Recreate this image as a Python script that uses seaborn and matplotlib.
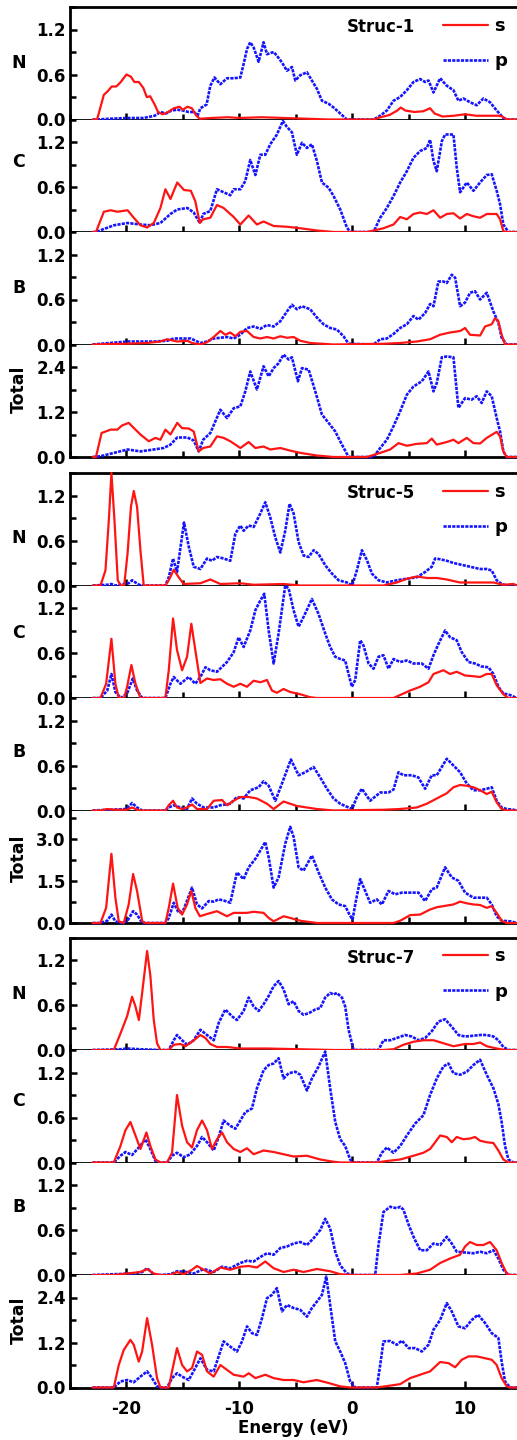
import matplotlib
matplotlib.use("Agg")
import matplotlib.pyplot as plt
import numpy as np
import pandas as pd
import seaborn as sns
from matplotlib.ticker import FixedLocator, MultipleLocator, FormatStrFormatter
from matplotlib.lines import Line2D

sns.set_theme(style="white")
plt.rcParams['font.family'] = ['DejaVu Sans']
plt.rcParams['axes.unicode_minus'] = False
for key in ["text.color", "axes.labelcolor", "xtick.color", "ytick.color", "axes.edgecolor"]:
    plt.rcParams[key] = "black"

# ---------------- data: (energy eV, DOS) ----------------
species = ["N", "C", "B", "Total"]
structures = ["Struc-1", "Struc-5", "Struc-7"]
orbitals = ["s", "p"]
x_ticks = [-20, -10, 0, 10]

# Struc-1
s1_N_s = [(-23,0),(-22.6,0),(-22.0,0.33),(-21.7,0.37),(-21.3,0.44),(-20.9,0.44),(-20.5,0.5),(-20.0,0.6),(-19.6,0.57),(-19.3,0.5),(-18.9,0.5),(-18.5,0.42),(-18.2,0.3),(-17.9,0.31),(-17.5,0.2),(-17.2,0.1),(-16.8,0.07),(-16.3,0.1),(-15.8,0.15),(-15.3,0.17),(-15.0,0.13),(-14.6,0.17),(-14.2,0.15),(-13.8,0.05),(-13.5,0.01),(-12.5,0.02),(-11.0,0.03),(-10.0,0.02),(-8.0,0.03),(-6.0,0.02),(-4.0,0.01),(-2.0,0.0),(0.0,0.0),(1.9,0.0),(2.5,0.03),(3.3,0.06),(4.0,0.12),(4.3,0.16),(4.7,0.12),(5.5,0.1),(6.3,0.11),(6.9,0.15),(7.3,0.08),(8.0,0.04),(9.0,0.05),(10.0,0.07),(11.0,0.05),(12.0,0.05),(13.0,0.05),(13.3,0.04),(13.7,0.0),(14.6,0.0)]
s1_N_p = [(-23,0),(-22.6,0),(-21.5,0.01),(-20,0.02),(-18.5,0.02),(-17.5,0.05),(-17.0,0.1),(-16.5,0.08),(-16.0,0.12),(-15.5,0.13),(-15.0,0.12),(-14.5,0.1),(-14.0,0.1),(-13.7,0.05),(-13.45,0.15),(-12.9,0.2),(-12.57,0.45),(-12.2,0.56),(-11.68,0.47),(-11.09,0.55),(-10.5,0.55),(-9.91,0.56),(-9.62,0.74),(-9.32,0.94),(-9.03,1.03),(-8.73,0.96),(-8.29,0.77),(-7.85,1.03),(-7.55,0.87),(-6.96,0.9),(-6.67,0.85),(-6.22,0.76),(-5.78,0.65),(-5.34,0.7),(-5.04,0.52),(-4.6,0.59),(-4.01,0.63),(-3.57,0.52),(-3.13,0.41),(-2.68,0.25),(-2.09,0.21),(-1.65,0.16),(-1.06,0.08),(-0.47,0),(1.89,0),(2.48,0.05),(3.07,0.12),(3.66,0.25),(4.25,0.3),(4.84,0.39),(5.43,0.5),(6.02,0.54),(6.46,0.5),(6.76,0.52),(7.2,0.36),(7.79,0.55),(8.38,0.45),(8.97,0.39),(9.41,0.25),(9.85,0.28),(10.44,0.23),(11.03,0.19),(11.62,0.28),(12.21,0.23),(12.8,0.12),(13.39,0.02),(13.69,0),(14.6,0)]
s1_C_s = [(-23,0),(-22.7,0),(-22.0,0.27),(-21.4,0.29),(-20.8,0.27),(-19.9,0.29),(-19.35,0.19),(-18.76,0.09),(-18.17,0.06),(-17.58,0.12),(-16.99,0.32),(-16.55,0.57),(-16.1,0.44),(-15.5,0.66),(-14.9,0.56),(-14.3,0.55),(-13.9,0.41),(-13.5,0.12),(-13.2,0.17),(-12.57,0.19),(-11.98,0.36),(-11.39,0.32),(-10.5,0.2),(-9.91,0.1),(-9.17,0.22),(-8.44,0.1),(-7.85,0.14),(-6.96,0.08),(-5.78,0.07),(-4.6,0.05),(-3.13,0.02),(-1.65,0),(1.3,0),(2.77,0.05),(3.66,0.1),(4.25,0.2),(4.84,0.17),(5.43,0.24),(6.02,0.26),(6.61,0.24),(7.2,0.29),(7.79,0.19),(8.38,0.24),(8.97,0.25),(9.56,0.18),(10.15,0.24),(10.74,0.21),(11.33,0.19),(11.92,0.24),(12.8,0.24),(13.1,0.17),(13.39,0.01),(13.69,0),(14.6,0)]
s1_C_p = [(-23,0),(-22.7,0),(-22.0,0.04),(-21.1,0.09),(-19.9,0.12),(-18.76,0.1),(-17.9,0.09),(-16.99,0.12),(-16.1,0.24),(-15.5,0.3),(-14.6,0.32),(-14.04,0.26),(-13.5,0.12),(-13.2,0.24),(-12.57,0.28),(-11.98,0.57),(-11.39,0.53),(-10.8,0.49),(-10.5,0.57),(-9.91,0.57),(-9.47,0.68),(-9.03,0.96),(-8.58,0.76),(-8.14,1.03),(-7.7,1.03),(-7.26,1.17),(-6.67,1.3),(-6.14,1.48),(-5.78,1.4),(-5.34,1.33),(-4.9,1.03),(-4.45,1.19),(-4.01,1.12),(-3.57,1.17),(-3.13,0.95),(-2.68,0.66),(-2.09,0.59),(-1.65,0.48),(-1.06,0.3),(-0.47,0.06),(-0.18,0),(1.89,0),(2.48,0.19),(3.07,0.32),(3.66,0.48),(4.25,0.66),(4.84,0.81),(5.43,0.99),(6.02,1.08),(6.61,1.12),(6.9,1.23),(7.2,0.95),(7.49,0.81),(7.94,1.21),(8.23,1.3),(8.97,1.3),(9.26,0.86),(9.56,0.53),(10.15,0.66),(10.74,0.55),(11.33,0.66),(11.92,0.76),(12.36,0.77),(12.8,0.55),(13.1,0.37),(13.39,0.1),(13.84,0),(14.6,0)]
s1_B_s = [(-23,0),(-20.2,0.01),(-18.2,0.02),(-17.0,0.04),(-16.4,0.07),(-15.5,0.04),(-14.6,0.05),(-14.2,0.02),(-13.45,0),(-12.86,0.03),(-12.27,0.1),(-11.68,0.18),(-11.24,0.13),(-10.8,0.16),(-10.35,0.11),(-9.91,0.17),(-9.32,0.18),(-8.73,0.1),(-8.14,0.08),(-7.55,0.1),(-6.96,0.08),(-6.37,0.11),(-5.78,0.09),(-5.19,0.1),(-4.6,0.05),(-3.72,0.02),(-1.65,0),(2.77,0.01),(4.25,0.02),(5.72,0.04),(6.9,0.07),(7.79,0.13),(8.67,0.16),(9.56,0.18),(10.0,0.22),(10.44,0.13),(11.33,0.12),(11.77,0.24),(12.36,0.27),(12.65,0.35),(12.95,0.31),(13.24,0.13),(13.54,0),(14.6,0)]
s1_B_p = [(-23,0),(-19.9,0.04),(-18.76,0.04),(-17.58,0.04),(-16.4,0.05),(-15.8,0.08),(-14.9,0.08),(-14.3,0.08),(-13.45,0.02),(-12.86,0.04),(-12.27,0.08),(-11.68,0.09),(-11.09,0.1),(-10.5,0.08),(-9.91,0.13),(-9.32,0.22),(-8.73,0.24),(-8.14,0.21),(-7.55,0.26),(-6.96,0.24),(-6.37,0.31),(-5.78,0.44),(-5.34,0.53),(-4.9,0.47),(-4.45,0.51),(-3.72,0.47),(-3.13,0.36),(-2.54,0.27),(-1.95,0.22),(-1.36,0.2),(-0.77,0.11),(-0.32,0.01),(1.89,0),(2.48,0.07),(3.07,0.08),(3.66,0.14),(4.25,0.22),(4.84,0.27),(5.43,0.38),(5.87,0.33),(6.46,0.42),(6.9,0.54),(7.2,0.51),(7.64,0.84),(8.08,0.84),(8.38,0.82),(8.82,0.93),(9.12,0.89),(9.56,0.51),(10.0,0.56),(10.44,0.69),(10.88,0.71),(11.33,0.6),(11.92,0.69),(12.51,0.44),(12.95,0.29),(13.24,0.09),(13.69,0),(14.6,0)]
s1_T_s = [(-23,0),(-22.7,0),(-22.2,0.64),(-21.4,0.73),(-20.8,0.73),(-20.4,0.84),(-19.8,0.91),(-19.2,0.73),(-18.76,0.6),(-18.02,0.42),(-17.43,0.51),(-16.99,0.46),(-16.55,0.73),(-16.1,0.6),(-15.5,0.91),(-15.07,0.77),(-14.48,0.76),(-14.04,0.68),(-13.6,0.15),(-13.2,0.24),(-12.57,0.28),(-11.98,0.55),(-11.39,0.51),(-10.8,0.42),(-10.35,0.33),(-9.91,0.24),(-9.17,0.4),(-8.58,0.24),(-7.85,0.28),(-7.26,0.2),(-6.37,0.24),(-5.49,0.17),(-4.6,0.11),(-3.13,0.04),(-1.65,0),(1.3,0),(2.48,0.11),(3.36,0.2),(4.1,0.37),(4.84,0.3),(5.72,0.35),(6.61,0.37),(7.05,0.49),(7.49,0.33),(8.38,0.4),(8.97,0.46),(9.41,0.37),(10.15,0.51),(10.74,0.37),(11.33,0.36),(11.92,0.51),(12.8,0.67),(13.1,0.55),(13.39,0.15),(13.69,0),(14.6,0)]
s1_T_p = [(-23,0),(-22.3,0.02),(-21.1,0.11),(-19.9,0.2),(-18.76,0.15),(-17.58,0.2),(-16.7,0.24),(-16.1,0.33),(-15.5,0.52),(-14.6,0.52),(-14.04,0.44),(-13.6,0.15),(-13.2,0.46),(-12.57,0.64),(-11.68,1.26),(-11.09,1.04),(-10.5,1.3),(-9.91,1.35),(-9.47,1.75),(-9.03,2.28),(-8.44,1.8),(-7.85,2.42),(-7.4,2.15),(-6.96,2.37),(-6.52,2.5),(-6.08,2.73),(-5.63,2.6),(-5.34,2.66),(-4.81,2.02),(-4.45,2.37),(-3.86,2.33),(-3.27,1.75),(-2.68,1.13),(-2.09,0.91),(-1.5,0.68),(-0.91,0.33),(-0.32,0),(1.89,0),(2.48,0.24),(3.07,0.46),(3.66,0.82),(4.25,1.22),(4.84,1.66),(5.43,1.88),(6.17,2.02),(6.76,2.28),(7.2,1.75),(7.49,1.97),(7.94,2.66),(8.38,2.68),(8.97,2.66),(9.41,1.31),(10.0,1.57),(10.59,1.53),(11.03,1.62),(11.47,1.44),(11.92,1.75),(12.36,1.62),(12.8,1.04),(13.1,0.68),(13.39,0.15),(13.69,0),(14.6,0)]

# Struc-5
s5_N_s = [(-23,0),(-22.3,0),(-21.86,0.2),(-21.56,0.87),(-21.33,1.5),(-21.06,0.87),(-20.77,0.07),(-20.5,0),(-20.2,0),(-19.9,0.43),(-19.6,1.05),(-19.35,1.26),(-19.06,1.05),(-18.76,0.47),(-18.47,0),(-16.55,0),(-16.25,0.07),(-15.81,0.21),(-15.37,0.11),(-14.93,0.02),(-13.45,0.03),(-12.57,0.08),(-11.68,0.02),(-9.91,0.03),(-8.73,0.01),(-6.08,0.02),(-4.6,0),(2.77,0),(3.95,0.04),(4.84,0.09),(5.72,0.12),(6.61,0.1),(7.49,0.1),(8.38,0.08),(9.56,0.04),(10.74,0.04),(11.62,0.04),(12.51,0.04),(13.39,0.01),(14.28,0.02),(14.6,0)]
s5_N_p = [(-23,0),(-21.7,0.01),(-21.33,0.02),(-20.98,0),(-19.8,0.03),(-19.5,0.07),(-19.2,0.04),(-18.76,0),(-16.55,0),(-16.25,0.11),(-15.87,0.36),(-15.52,0.18),(-14.9,0.84),(-14.48,0.52),(-14.04,0.25),(-13.45,0.22),(-12.86,0.36),(-12.42,0.33),(-11.98,0.38),(-11.39,0.36),(-10.8,0.33),(-10.35,0.69),(-9.91,0.8),(-9.62,0.73),(-9.17,0.8),(-8.73,0.78),(-8.14,0.96),(-7.7,1.11),(-7.26,0.91),(-6.81,0.64),(-6.37,0.44),(-5.93,0.73),(-5.55,1.09),(-5.19,0.96),(-4.75,0.58),(-4.31,0.4),(-3.86,0.38),(-3.42,0.47),(-2.98,0.42),(-2.39,0.27),(-1.8,0.16),(-1.21,0.07),(-0.47,0.04),(0.0,0.0),(0.41,0.2),(0.86,0.47),(1.3,0.34),(1.74,0.16),(2.33,0.07),(3.07,0.04),(3.95,0.07),(4.84,0.09),(5.72,0.11),(6.46,0.18),(7.05,0.25),(7.35,0.36),(7.79,0.35),(8.38,0.33),(8.97,0.3),(9.56,0.28),(10.15,0.26),(10.74,0.24),(11.33,0.22),(11.92,0.22),(12.36,0.2),(12.8,0.07),(13.24,0.02),(13.69,0),(14.6,0)]
s5_C_s = [(-23,0),(-22.3,0),(-21.8,0.19),(-21.33,0.79),(-20.98,0.19),(-20.68,0),(-20.2,0),(-19.94,0.15),(-19.56,0.44),(-19.2,0.19),(-18.76,0),(-16.55,0),(-16.25,0.37),(-15.87,1.06),(-15.52,0.64),(-15.07,0.37),(-14.63,0.55),(-14.25,0.99),(-13.9,0.64),(-13.45,0.2),(-12.86,0.26),(-12.27,0.24),(-11.68,0.25),(-11.09,0.19),(-10.5,0.15),(-9.91,0.19),(-9.32,0.15),(-8.73,0.23),(-8.14,0.21),(-7.55,0.24),(-7.11,0.1),(-6.67,0.07),(-6.08,0.12),(-5.49,0.08),(-4.6,0.05),(-3.72,0.01),(-3.13,0),(3.66,0),(4.25,0.04),(5.13,0.1),(6.02,0.15),(6.76,0.21),(7.2,0.32),(8.08,0.37),(8.67,0.32),(9.26,0.35),(10.0,0.3),(10.74,0.29),(11.33,0.28),(11.92,0.32),(12.36,0.32),(12.8,0.17),(13.39,0.05),(13.84,0),(14.6,0)]
s5_C_p = [(-23,0),(-22.3,0),(-21.7,0.1),(-21.33,0.32),(-20.98,0.08),(-20.5,0),(-19.94,0.06),(-19.44,0.26),(-19.06,0.1),(-18.6,0),(-16.55,0),(-16.1,0.19),(-15.81,0.28),(-15.22,0.19),(-14.48,0.28),(-13.9,0.19),(-13.45,0.28),(-13.0,0.41),(-12.57,0.37),(-11.98,0.35),(-11.09,0.48),(-10.5,0.61),(-10.06,0.81),(-9.62,0.68),(-9.03,0.9),(-8.58,1.17),(-8.14,1.3),(-7.79,1.39),(-7.4,0.9),(-6.96,0.46),(-6.52,0.86),(-5.93,1.5),(-5.63,1.46),(-5.19,1.17),(-4.75,0.95),(-4.31,1.08),(-3.57,1.32),(-2.98,1.12),(-2.39,0.86),(-1.95,0.68),(-1.5,0.55),(-1.06,0.52),(-0.62,0.5),(-0.32,0.32),(-0.03,0.15),(0.27,0.24),(0.71,0.77),(1.0,0.7),(1.45,0.46),(1.89,0.39),(2.33,0.55),(2.77,0.57),(3.22,0.39),(3.66,0.52),(4.25,0.48),(4.84,0.5),(5.43,0.46),(6.17,0.46),(6.76,0.39),(7.2,0.57),(7.64,0.72),(8.23,0.9),(8.67,0.81),(9.26,0.77),(9.71,0.61),(10.3,0.48),(10.88,0.46),(11.47,0.42),(12.07,0.41),(12.51,0.32),(12.95,0.15),(13.39,0.06),(13.98,0.04),(14.57,0)]
s5_B_s = [(-23,0),(-22.3,0),(-21.7,0.02),(-21.1,0.01),(-20.0,0.01),(-19.5,0.04),(-19.06,0.01),(-18.76,0),(-16.55,0),(-16.25,0.07),(-15.87,0.13),(-15.52,0.04),(-15.07,0.02),(-14.63,0.04),(-14.19,0.08),(-13.75,0.02),(-12.86,0.02),(-12.27,0.13),(-11.53,0.14),(-11.09,0.07),(-10.5,0.13),(-9.91,0.18),(-9.17,0.18),(-8.44,0.16),(-7.55,0.09),(-6.96,0.02),(-6.52,0.07),(-6.08,0.12),(-5.49,0.09),(-4.9,0.06),(-4.01,0.04),(-3.13,0.02),(-1.65,0),(2.77,0.01),(4.25,0.02),(5.72,0.04),(6.61,0.09),(7.49,0.16),(8.38,0.23),(8.97,0.31),(9.56,0.34),(10.15,0.33),(10.74,0.31),(11.33,0.27),(11.92,0.22),(12.36,0.25),(12.8,0.11),(13.24,0.02),(13.69,0),(14.6,0)]
s5_B_p = [(-23,0),(-20.0,0.02),(-19.5,0.1),(-19.06,0.04),(-18.6,0),(-16.55,0),(-16.25,0.04),(-15.81,0.07),(-15.22,0.04),(-14.63,0.02),(-14.19,0.16),(-13.75,0.09),(-13.15,0.04),(-12.27,0.04),(-11.68,0.07),(-10.8,0.09),(-10.21,0.18),(-9.62,0.16),(-9.03,0.27),(-8.29,0.31),(-7.85,0.39),(-7.4,0.33),(-6.81,0.13),(-6.22,0.36),(-5.43,0.68),(-4.75,0.47),(-4.16,0.51),(-3.42,0.58),(-2.83,0.44),(-2.24,0.29),(-1.65,0.16),(-1.06,0.09),(-0.47,0.05),(0.0,0.02),(0.41,0.18),(0.86,0.29),(1.59,0.13),(2.48,0.24),(3.22,0.24),(3.66,0.28),(4.1,0.51),(4.54,0.47),(5.28,0.47),(5.87,0.44),(6.46,0.29),(7.05,0.47),(7.49,0.47),(8.38,0.69),(8.97,0.6),(9.56,0.51),(10.15,0.36),(10.74,0.27),(11.33,0.27),(11.92,0.29),(12.36,0.31),(12.8,0.13),(13.24,0.04),(13.69,0.02),(14.28,0.01),(14.6,0)]
s5_T_s = [(-23,0),(-22.3,0),(-21.8,0.54),(-21.33,2.46),(-20.98,0.9),(-20.68,0.06),(-20.24,0),(-19.8,0.66),(-19.41,1.74),(-19.06,1.14),(-18.6,0.06),(-18.3,0),(-16.55,0),(-16.25,0.54),(-15.87,1.4),(-15.46,0.54),(-15.07,0.3),(-14.63,0.66),(-14.25,1.14),(-13.9,0.54),(-13.5,0.24),(-12.86,0.32),(-11.98,0.42),(-11.09,0.24),(-10.5,0.36),(-9.32,0.36),(-8.73,0.4),(-7.85,0.36),(-7.4,0.18),(-6.96,0.06),(-6.08,0.24),(-5.49,0.18),(-4.6,0.08),(-3.13,0),(3.66,0),(4.25,0.08),(5.13,0.28),(6.02,0.3),(6.9,0.48),(7.49,0.56),(8.38,0.62),(8.97,0.66),(9.56,0.76),(10.15,0.7),(10.74,0.66),(11.33,0.64),(11.92,0.54),(12.36,0.6),(12.8,0.36),(13.24,0.08),(13.69,0),(14.6,0)]
s5_T_p = [(-23,0),(-22.3,0),(-21.7,0.08),(-21.33,0.3),(-20.98,0.06),(-20.5,0),(-19.94,0.06),(-19.41,0.42),(-19.06,0.3),(-18.6,0),(-16.55,0),(-16.25,0.18),(-15.81,0.72),(-15.37,0.36),(-14.93,0.48),(-14.19,1.26),(-13.75,0.66),(-13.3,0.52),(-12.71,0.78),(-12.27,0.76),(-11.83,0.84),(-11.39,0.8),(-10.8,0.72),(-10.21,1.8),(-9.62,1.56),(-9.17,1.98),(-8.58,2.28),(-8.14,2.58),(-7.7,2.88),(-7.4,2.34),(-6.96,1.26),(-6.52,1.62),(-5.93,2.82),(-5.49,3.42),(-5.19,3.06),(-4.75,1.98),(-4.31,1.86),(-3.57,2.4),(-2.98,1.8),(-2.39,1.26),(-1.8,0.84),(-1.21,0.66),(-0.62,0.6),(-0.24,0.3),(0.03,0.12),(0.27,0.66),(0.71,1.56),(1.15,1.14),(1.59,0.72),(2.18,0.84),(2.63,0.66),(3.22,1.14),(3.81,1.02),(4.4,1.08),(5.13,1.08),(5.87,1.08),(6.46,0.78),(7.05,1.2),(7.49,1.26),(8.23,1.98),(8.82,1.62),(9.41,1.5),(10.0,1.08),(10.74,0.9),(11.33,0.9),(11.92,0.9),(12.36,0.66),(12.8,0.24),(13.24,0.08),(14.0,0.06),(14.6,0)]

# Struc-7
s7_N_s = [(-23,0),(-21.12,0),(-20.53,0.22),(-19.94,0.45),(-19.5,0.71),(-19.2,0.58),(-18.9,0.4),(-18.61,0.76),(-18.17,1.32),(-17.88,0.99),(-17.58,0.4),(-17.29,0.09),(-16.99,0),(-16.25,0),(-15.81,0.07),(-15.22,0.08),(-14.78,0.05),(-14.19,0.11),(-13.45,0.2),(-13.0,0.16),(-12.57,0.08),(-11.98,0.04),(-11.09,0.04),(-9.91,0.02),(-7.55,0.02),(-4.6,0.01),(-1.65,0),(2.77,0),(3.66,0.01),(4.54,0.07),(5.43,0.11),(6.31,0.13),(7.2,0.13),(8.08,0.09),(8.97,0.05),(10.0,0.08),(10.74,0.08),(11.33,0.1),(11.92,0.05),(12.8,0.02),(13.54,0),(14.6,0)]
s7_N_p = [(-23,0),(-20.53,0.01),(-19.94,0.02),(-18.76,0.01),(-16.99,0),(-16.25,0),(-15.81,0.13),(-15.52,0.2),(-15.07,0.13),(-14.63,0.07),(-14.04,0.13),(-13.45,0.27),(-12.86,0.2),(-12.27,0.13),(-11.83,0.36),(-11.24,0.54),(-10.65,0.45),(-10.21,0.4),(-9.62,0.52),(-9.17,0.7),(-8.73,0.58),(-8.29,0.52),(-7.85,0.61),(-7.4,0.72),(-6.96,0.85),(-6.52,0.92),(-6.08,0.81),(-5.63,0.61),(-5.19,0.65),(-4.75,0.52),(-4.31,0.47),(-3.86,0.49),(-3.27,0.54),(-2.83,0.56),(-2.39,0.7),(-1.95,0.76),(-1.65,0.74),(-1.36,0.76),(-0.91,0.7),(-0.62,0.58),(-0.32,0.27),(0.12,0),(2.33,0),(2.77,0.13),(3.36,0.13),(3.95,0.16),(4.69,0.2),(5.28,0.18),(5.87,0.13),(6.46,0.16),(7.05,0.25),(7.64,0.38),(8.23,0.41),(8.82,0.31),(9.41,0.2),(10.0,0.18),(10.74,0.19),(11.33,0.2),(11.92,0.2),(12.51,0.18),(12.95,0.13),(13.39,0.04),(13.84,0),(14.6,0)]
s7_C_s = [(-23,0),(-21.12,0),(-20.53,0.22),(-20.09,0.43),(-19.65,0.54),(-19.2,0.36),(-18.76,0.18),(-18.23,0.4),(-17.88,0.22),(-17.43,0.04),(-16.99,0),(-16.4,0),(-15.96,0.13),(-15.52,0.9),(-15.07,0.49),(-14.63,0.27),(-14.19,0.2),(-13.75,0.43),(-13.3,0.56),(-12.86,0.43),(-12.42,0.18),(-11.98,0.31),(-11.53,0.4),(-11.09,0.27),(-10.5,0.18),(-9.91,0.14),(-9.32,0.19),(-8.73,0.11),(-7.85,0.16),(-6.96,0.14),(-6.08,0.11),(-5.19,0.08),(-4.01,0.09),(-2.83,0.04),(-1.65,0.01),(-1.06,0),(2.18,0),(3.07,0.02),(4.25,0.04),(5.43,0.09),(6.31,0.13),(6.9,0.18),(7.35,0.27),(7.79,0.36),(8.38,0.34),(8.82,0.27),(9.26,0.34),(9.85,0.31),(10.44,0.32),(10.88,0.34),(11.33,0.29),(11.92,0.27),(12.51,0.26),(12.95,0.16),(13.39,0.04),(13.84,0),(14.6,0)]
s7_C_p = [(-23,0),(-21.12,0),(-20.53,0.09),(-20.09,0.14),(-19.5,0.1),(-18.91,0.2),(-18.32,0.31),(-17.88,0.18),(-17.43,0.02),(-16.99,0),(-16.4,0),(-15.96,0.09),(-15.52,0.13),(-14.93,0.07),(-14.34,0.11),(-13.75,0.22),(-13.3,0.34),(-12.86,0.27),(-12.27,0.16),(-11.83,0.34),(-11.39,0.56),(-10.8,0.49),(-10.35,0.45),(-9.91,0.56),(-9.47,0.67),(-8.88,0.72),(-8.44,0.99),(-7.85,1.23),(-7.4,1.3),(-6.96,1.32),(-6.52,1.39),(-6.08,1.12),(-5.63,1.19),(-5.04,1.21),(-4.6,1.17),(-4.01,0.96),(-3.57,1.12),(-2.98,1.28),(-2.39,1.48),(-1.95,0.99),(-1.5,0.54),(-1.06,0.31),(-0.62,0.22),(-0.18,0.04),(0.12,0),(2.18,0),(2.63,0.13),(3.07,0.2),(3.66,0.13),(4.25,0.22),(4.84,0.36),(5.58,0.52),(6.31,0.63),(6.9,0.9),(7.49,1.12),(8.08,1.28),(8.53,1.32),(8.97,1.19),(9.56,1.17),(10.15,1.21),(10.74,1.3),(11.33,1.37),(11.92,1.17),(12.51,0.99),(12.95,0.78),(13.24,0.54),(13.54,0.22),(13.84,0.04),(14.28,0),(14.6,0)]
s7_B_s = [(-23,0),(-21.12,0),(-19.94,0.02),(-18.76,0.04),(-18.17,0.08),(-17.58,0.02),(-16.99,0),(-16.1,0),(-15.52,0.04),(-14.93,0.01),(-14.19,0.07),(-13.75,0.12),(-13.15,0.07),(-12.57,0.02),(-11.68,0.1),(-10.8,0.07),(-9.91,0.11),(-9.17,0.12),(-8.44,0.1),(-7.7,0.18),(-6.96,0.09),(-6.08,0.04),(-5.19,0.07),(-4.31,0.04),(-3.13,0.08),(-1.95,0.05),(-1.06,0.01),(0.12,0),(4.25,0),(5.72,0.02),(6.9,0.07),(7.79,0.16),(8.67,0.22),(9.56,0.27),(10.0,0.38),(10.44,0.44),(11.03,0.4),(11.62,0.4),(12.21,0.44),(12.8,0.33),(13.24,0.16),(13.69,0.02),(13.98,0),(14.6,0)]
s7_B_p = [(-23,0),(-19.35,0.02),(-18.6,0.04),(-18.17,0.09),(-17.58,0.01),(-16.99,0),(-16.1,0.01),(-15.52,0.05),(-14.63,0.04),(-14.04,0.02),(-13.15,0.08),(-12.27,0.04),(-11.53,0.11),(-10.8,0.09),(-9.91,0.16),(-9.32,0.19),(-8.73,0.18),(-8.14,0.24),(-7.55,0.29),(-6.96,0.27),(-6.37,0.36),(-5.78,0.38),(-5.19,0.42),(-4.6,0.44),(-4.01,0.4),(-3.42,0.49),(-2.83,0.6),(-2.39,0.75),(-1.95,0.62),(-1.5,0.31),(-1.06,0.13),(-0.47,0.02),(0.12,0),(2.04,0),(2.33,0.4),(2.77,0.84),(3.36,0.91),(3.95,0.89),(4.25,0.91),(4.54,0.87),(5.0,0.67),(5.43,0.51),(6.02,0.33),(6.61,0.33),(7.2,0.42),(7.79,0.4),(8.38,0.51),(8.82,0.42),(9.26,0.31),(10.0,0.3),(10.74,0.29),(11.33,0.31),(11.92,0.29),(12.51,0.33),(12.95,0.22),(13.39,0.07),(13.84,0),(14.6,0)]
s7_T_s = [(-23,0),(-21.12,0),(-20.68,0.6),(-20.24,1.0),(-19.65,1.27),(-19.35,1.14),(-18.91,0.69),(-18.61,0.96),(-18.17,1.85),(-17.73,1.14),(-17.29,0.25),(-16.99,0),(-16.25,0),(-15.96,0.43),(-15.52,1.05),(-15.07,0.6),(-14.63,0.43),(-14.19,0.52),(-13.75,0.96),(-13.3,0.87),(-12.86,0.43),(-12.27,0.29),(-11.68,0.6),(-11.09,0.47),(-10.5,0.34),(-9.62,0.29),(-9.17,0.38),(-8.58,0.25),(-7.7,0.34),(-6.96,0.25),(-6.08,0.2),(-5.19,0.2),(-4.31,0.14),(-3.13,0.2),(-2.09,0.12),(-1.06,0.03),(-0.18,0),(2.18,0),(3.36,0.05),(4.25,0.09),(5.13,0.25),(6.02,0.34),(6.9,0.43),(7.79,0.68),(8.53,0.65),(9.12,0.54),(9.71,0.74),(10.3,0.83),(11.03,0.83),(11.77,0.78),(12.36,0.74),(12.8,0.6),(13.24,0.25),(13.69,0.03),(13.98,0),(14.6,0)]
s7_T_p = [(-23,0),(-21.12,0),(-20.53,0.16),(-19.94,0.2),(-19.35,0.14),(-18.76,0.29),(-18.17,0.43),(-17.73,0.25),(-17.29,0.03),(-16.99,0),(-16.4,0),(-15.96,0.25),(-15.52,0.38),(-15.07,0.29),(-14.48,0.2),(-13.9,0.52),(-13.45,0.78),(-12.86,0.47),(-12.27,0.43),(-11.83,0.83),(-11.39,1.23),(-10.8,1.09),(-10.21,0.96),(-9.76,1.23),(-9.32,1.63),(-8.88,1.45),(-8.44,1.4),(-7.99,1.85),(-7.55,2.38),(-7.11,2.47),(-6.67,2.65),(-6.22,2.03),(-5.78,2.2),(-5.19,2.12),(-4.6,2.07),(-4.01,1.89),(-3.57,2.12),(-3.13,2.29),(-2.68,2.47),(-2.3,2.96),(-1.95,2.2),(-1.5,1.23),(-1.06,0.96),(-0.62,0.65),(-0.18,0.16),(0.27,0),(2.18,0),(2.48,0.6),(2.77,1.23),(3.36,1.24),(3.95,1.14),(4.4,1.25),(5.0,1.05),(5.58,1.05),(6.17,0.96),(6.76,1.14),(7.2,1.54),(7.79,1.8),(8.38,2.25),(8.82,2.03),(9.41,1.63),(10.0,1.58),(10.59,1.8),(11.15,1.94),(11.77,1.72),(12.36,1.45),(12.95,1.32),(13.24,0.69),(13.54,0.16),(13.98,0),(14.6,0)]

curves = {
    "Struc-1": [(s1_N_s, s1_N_p), (s1_C_s, s1_C_p), (s1_B_s, s1_B_p), (s1_T_s, s1_T_p)],
    "Struc-5": [(s5_N_s, s5_N_p), (s5_C_s, s5_C_p), (s5_B_s, s5_B_p), (s5_T_s, s5_T_p)],
    "Struc-7": [(s7_N_s, s7_N_p), (s7_C_s, s7_C_p), (s7_B_s, s7_B_p), (s7_T_s, s7_T_p)],
}
# y-axis settings (max, major step, minor step) per structure / panel
y_small = (1.5, 0.6, 0.3)
y_total = {"Struc-1": (3.0, 1.2, 0.6), "Struc-5": (4.0, 1.5, 0.75), "Struc-7": (3.0, 1.2, 0.6)}

# ---------------- layout (pixels) ----------------
W, H = 517, 1440
LEFT, RIGHT = 70, 517
BLOCK_TOPS = [7, 473, 937.5]
PANEL_H = 112.5
label_y = {"Struc-1": [0.5, 0.62, 0.5, 0.6],
           "Struc-5": [0.42, 0.58, 0.52, 0.58],
           "Struc-7": [0.5, 0.55, 0.6, 0.6]}

RED = "#ff1414"
BLUE = "#1414ff"
DOT = (0, (1.2, 0.45))

fig = plt.figure(figsize=(W / 100, H / 100), dpi=100)
fig.patch.set_facecolor("white")

for b, struc in enumerate(structures):
    for i, sp in enumerate(species):
        top = BLOCK_TOPS[b] + i * PANEL_H
        ax = fig.add_axes([LEFT / W, 1 - (top + PANEL_H) / H, (RIGHT - LEFT) / W, PANEL_H / H])
        ax.set_facecolor("white")
        s_pts, p_pts = curves[struc][i]
        df_s = pd.DataFrame(s_pts, columns=["energy", "dos"])
        df_p = pd.DataFrame(p_pts, columns=["energy", "dos"])
        sns.lineplot(data=df_s, x="energy", y="dos", ax=ax, color=RED, lw=1.6,
                     estimator=None, sort=False, legend=False, zorder=4)
        sns.lineplot(data=df_p, x="energy", y="dos", ax=ax, color=BLUE, lw=1.9,
                     linestyle=DOT, estimator=None, sort=False, legend=False, zorder=3)
        for ln in ax.lines:
            ln.set_clip_on(False)

        ax.set_xlim(-25, 14.6)
        if sp == "Total":
            ymax, maj, mnr = y_total[struc]
        else:
            ymax, maj, mnr = y_small
        ax.set_ylim(0, ymax)
        ax.yaxis.set_major_locator(MultipleLocator(maj))
        ax.yaxis.set_minor_locator(MultipleLocator(mnr))
        ax.yaxis.set_major_formatter(FormatStrFormatter("%.1f"))
        ax.xaxis.set_major_locator(FixedLocator(x_ticks))
        ax.xaxis.set_minor_locator(MultipleLocator(5))

        for side in ["left", "bottom", "top"]:
            ax.spines[side].set_linewidth(2.0)
            ax.spines[side].set_color("black")
        ax.spines["right"].set_visible(False)
        ax.spines["top"].set_visible(i == 0)

        ax.tick_params(axis="both", which="both", direction="in", color="black",
                       width=1.8, top=False, right=False, left=True, bottom=True)
        ax.tick_params(axis="both", which="major", length=5)
        ax.tick_params(axis="both", which="minor", length=4.5)
        ax.tick_params(axis="y", labelsize=12, pad=3, labelcolor="black")
        ax.tick_params(axis="x", labelsize=12, pad=9, labelcolor="black")
        for t in ax.get_yticklabels():
            t.set_fontweight("bold")
        last = (b == len(structures) - 1 and i == len(species) - 1)
        if last:
            for t in ax.get_xticklabels():
                t.set_fontweight("bold")
            ax.set_xlabel("Energy (eV)", fontsize=12, fontweight="bold", labelpad=1, color="black")
        else:
            ax.set_xticklabels([])
            ax.set_xlabel("")

        ax.set_ylabel(sp, fontsize=12.5, fontweight="bold", color="black",
                      rotation=90 if sp == "Total" else 0, va="center", ha="center")
        ax.yaxis.set_label_coords(-0.115, label_y[struc][i])

        if i == 0:
            handles = [Line2D([], [], color=RED, lw=1.6),
                       Line2D([], [], color=BLUE, lw=1.9, linestyle=DOT)]
            leg = ax.legend(handles, orbitals, loc="upper right", bbox_to_anchor=(1.0, 1.0),
                            frameon=False, handlelength=2.5, handletextpad=0.35,
                            labelspacing=0.95, borderaxespad=0.15,
                            prop={"weight": "bold", "size": 13})
            for t in leg.get_texts():
                t.set_color("black")
            ax.text(0.772, 0.82, struc, transform=ax.transAxes, ha="right", va="center",
                    fontsize=12, fontweight="bold", color="black")

fig.savefig("out.png", dpi=100, facecolor="white")
